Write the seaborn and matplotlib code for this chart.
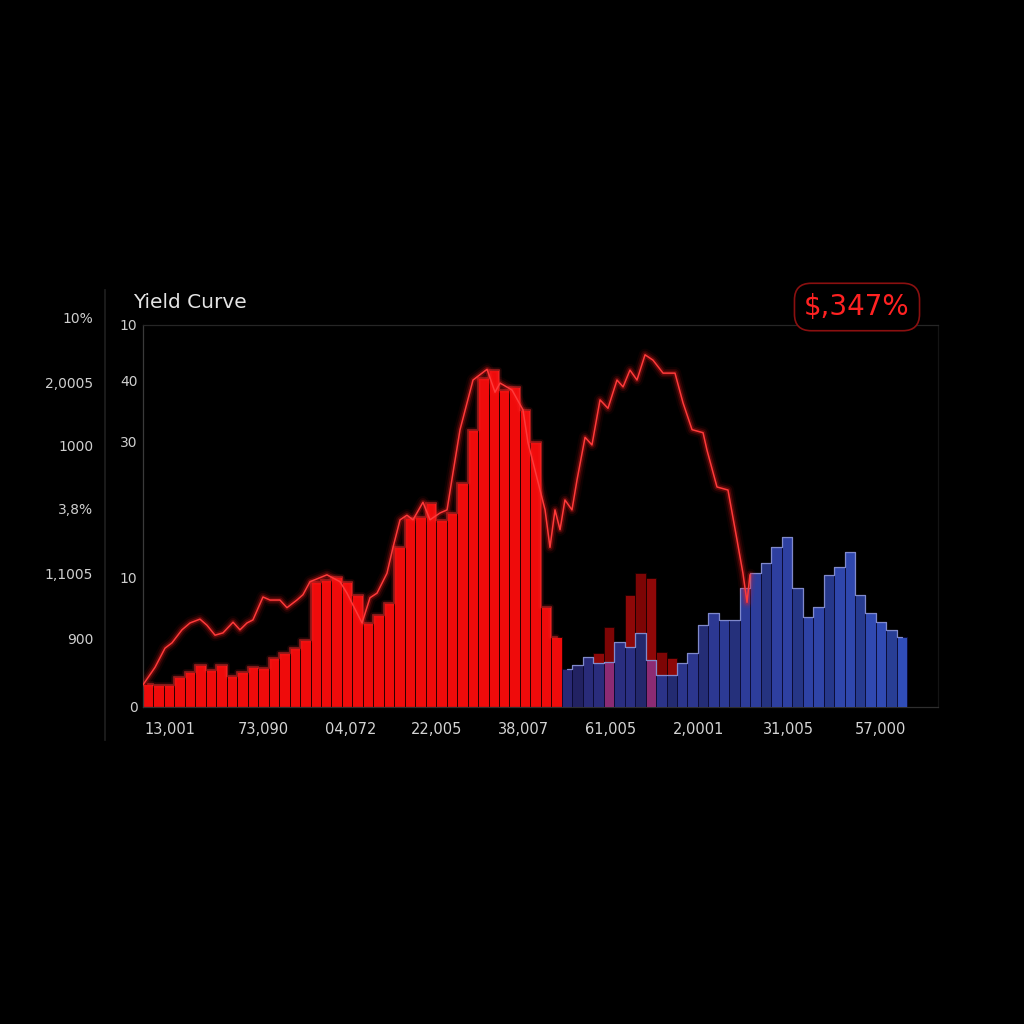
import matplotlib
matplotlib.use("Agg")
import matplotlib.pyplot as plt
import seaborn as sns
import numpy as np
import pandas as pd

# bar heights (left = red block, right = blue block)
red_vals = [3.0, 2.9, 2.9, 3.9, 4.6, 5.5, 4.8, 5.5, 4.1, 4.6, 5.2, 5.1, 6.4, 7.1, 7.7,
            8.8, 16.4, 16.6, 17.0, 16.4, 14.7, 11.0, 12.0, 13.6, 20.9, 24.7, 24.9, 26.7,
            24.5, 25.4, 29.3, 36.3, 43.1, 44.1, 41.5, 41.9, 38.9, 34.7, 13.1, 9.2]
blue_vals = [5.0, 5.5, 6.5, 5.8, 5.9, 8.5, 7.9, 9.7, 6.2, 4.2, 4.2, 5.8, 7.1, 10.7, 12.3,
             11.4, 11.4, 15.6, 17.5, 18.8, 20.9, 22.3, 15.6, 11.8, 13.1, 17.3, 18.3, 20.3,
             14.7, 12.3, 11.1, 10.1, 9.2]
# dark red bars hidden behind the blue block
shadow_pos = [43, 44, 46, 47, 48, 49, 50]
shadow_vals = [7.1, 10.5, 14.7, 17.5, 16.9, 7.2, 6.4]

# red yield line
line_x = [-0.5, 0.65, 1.6, 2.27, 3.22, 3.99, 4.94, 5.61, 6.38, 7.14, 8.1, 8.76, 9.43, 10.0,
          10.96, 11.63, 12.58, 13.25, 14.2, 14.78, 15.45, 17.07, 18.32, 18.98, 19.94, 20.42,
          21.18, 21.85, 22.8, 23.38, 24.05, 24.71, 25.29, 26.24, 26.91, 27.87, 28.54, 29.1,
          29.78, 31.02, 32.36, 33.12, 33.6, 34.74, 35.79, 36.27, 36.94, 37.9, 38.37, 38.85,
          39.33, 39.8, 40.47, 40.95, 41.72, 42.38, 43.15, 43.91, 44.77, 45.35, 46.01, 46.68,
          47.45, 48.21, 49.17, 50.31, 51.08, 51.94, 52.99, 53.37, 54.32, 55.37, 56.23, 56.8,
          57.19, 57.47]
line_y = [2.9, 5.2, 7.7, 8.4, 10.1, 11.0, 11.5, 10.7, 9.4, 9.7, 11.1, 10.1, 11.0, 11.4,
          14.4, 14.0, 14.0, 13.0, 14.0, 14.7, 16.4, 17.3, 16.4, 14.9, 12.3, 11.0, 14.3, 14.9,
          17.5, 20.9, 24.5, 25.1, 24.5, 26.8, 24.5, 25.4, 25.8, 30.6, 36.3, 42.8, 44.2, 41.2,
          42.4, 41.5, 38.9, 34.6, 31.0, 25.8, 20.9, 25.8, 23.2, 27.1, 25.8, 29.7, 35.3, 34.3,
          40.2, 39.1, 42.8, 41.9, 44.1, 42.8, 46.1, 45.4, 43.7, 43.7, 39.8, 36.3, 35.9, 33.6,
          28.8, 28.4, 21.9, 17.5, 13.7, 17.3]

x_ticks = [2.08, 10.96, 19.3, 27.5, 35.8, 44.2, 52.6, 61.1, 69.9]
x_labels = ['13,001', '73,090', '04,072', '22,005', '38,007', '61,005', '2,0001', '31,005', '57,000']
inner_ticks = [0, 16.9, 34.7, 42.7, 50]
inner_labels = ['0', '10', '30', '40', '10']
outer_ticks = [9.03, 17.54, 26.05, 34.30, 42.54, 51.05]
outer_labels = ['900', '1,1005', '3,8%', '1000', '2,0005', '10%']

sns.set_theme(style='dark')
plt.rcParams['font.family'] = ['DejaVu Sans']

fig = plt.figure(figsize=(10.24, 10.24), dpi=100, facecolor='black')
ax = fig.add_axes([143 / 1024, 317 / 1024, 795 / 1024, 382 / 1024])
ax.set_facecolor('black')

n_red = len(red_vals)
red_df = pd.DataFrame({'x': np.arange(n_red), 'v': red_vals})
blue_df = pd.DataFrame({'x': np.arange(n_red, n_red + len(blue_vals)), 'v': blue_vals})
shadow_df = pd.DataFrame({'x': shadow_pos, 'v': shadow_vals})

# dark red shadow bars first
for i, row in shadow_df.iterrows():
    ax.bar(row['x'], row['v'], width=1.0, color='#7d0505' if i % 2 else '#8e0808',
           edgecolor='#1a0000', linewidth=0.6, zorder=1)

sns.barplot(data=red_df, x='x', y='v', native_scale=True, width=1.0, color='#ef0b0b',
            edgecolor='#2a0000', linewidth=0.7, saturation=1, ax=ax, zorder=2)
# soft glow along the red bar tops
for lw, a in [(4, 0.12), (1.6, 0.45)]:
    ax.step(red_df['x'], red_df['v'], where='mid', color='#ff3030', lw=lw, alpha=a, zorder=2.5)

blue_cols = []
for k, xv in enumerate(blue_df['x']):
    t = k / (len(blue_vals) - 1)
    base = np.array([0.16, 0.16, 0.46]) * (1 - t) + np.array([0.19, 0.30, 0.72]) * t
    if k % 3 == 1:
        base = base * 0.82
    if xv in (44, 48):
        base = np.array([0.55, 0.17, 0.45])
    blue_cols.append(tuple(np.clip(base, 0, 1)))
for k, row in blue_df.iterrows():
    ax.bar(row['x'], row['v'], width=1.0, color=blue_cols[k], edgecolor='#0a0a30',
           linewidth=0.6, zorder=3)
ax.step(blue_df['x'], blue_df['v'], where='mid', color='#a8b4ff', lw=0.9, alpha=0.75, zorder=4)

# glowing red line
for lw, a in [(9, 0.06), (6, 0.12), (3.5, 0.25)]:
    ax.plot(line_x, line_y, color='#ff1a1a', lw=lw, alpha=a, zorder=5, solid_joinstyle='round')
sns.lineplot(x=line_x, y=line_y, sort=False, color='#ff3a3a', lw=1.1, ax=ax, zorder=6)

ax.set_xlim(-0.5, 75.43)
ax.set_ylim(0, 50)
ax.set_xticks(x_ticks)
ax.set_xticklabels(x_labels, color='#d4d4d4', fontsize=10.5)
ax.set_yticks(inner_ticks)
ax.set_yticklabels(inner_labels, color='#cfcfcf', fontsize=10)
ax.tick_params(axis='x', length=0, pad=11)
ax.tick_params(axis='y', length=0, pad=4)
ax.set_xlabel('')
ax.set_ylabel('')
ax.grid(False)
for side, col in [('left', '#3a3a3a'), ('bottom', '#2e2e2e'), ('top', '#262626'), ('right', '#141414')]:
    ax.spines[side].set_visible(True)
    ax.spines[side].set_color(col)
    ax.spines[side].set_linewidth(0.9)

# outer scale on the far left
ax_out = fig.add_axes([105 / 1024, (1024 - 740) / 1024, 0.0001, 450 / 1024])
ax_out.set_facecolor('black')
ax_out.set_ylim(-4.32, 54.6)
ax_out.set_xticks([])
ax_out.set_yticks(outer_ticks)
ax_out.set_yticklabels(outer_labels, color='#cfcfcf', fontsize=10)
ax_out.tick_params(axis='y', colors='#b01010', length=5, width=1.2, direction='inout', pad=6)
for lab in ax_out.get_yticklabels():
    lab.set_color('#cfcfcf')
for side in ['top', 'right', 'bottom']:
    ax_out.spines[side].set_visible(False)
ax_out.spines['left'].set_color('#1e1e1e')
ax_out.grid(False)

fig.text(133 / 1024, 1 - 303 / 1024, 'Yield Curve', ha='left', va='center',
         color='#e4e4e4', fontsize=14.5)
fig.text(857 / 1024, 1 - 307 / 1024, '$,347%', ha='center', va='center', color='#ff2222',
         fontsize=20,
         bbox=dict(boxstyle='round,pad=0.35,rounding_size=0.6', fc='black', ec='#8a1010', lw=1.2))

fig.savefig('out.png', dpi=100, facecolor='black')
